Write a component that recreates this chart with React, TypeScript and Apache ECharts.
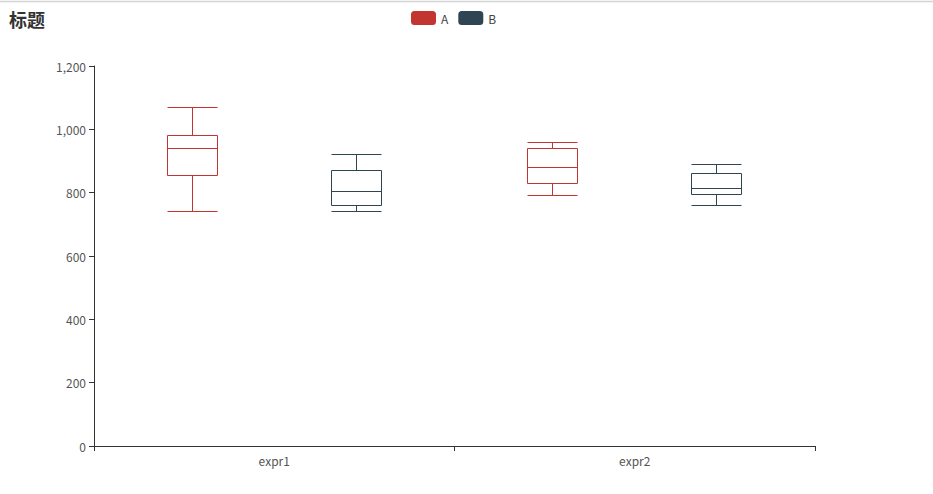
import React, { useEffect, useRef } from "react";
import * as echarts from "echarts";

const title = "标题";
const categories = ["expr1", "expr2"];
const seriesNames = ["A", "B"];
const colors = ["#c23531", "#2f4554"];
// [min, Q1, median, Q3, max]
const boxA = [
  [740, 855, 940, 980, 1070],
  [790, 830, 880, 940, 960],
];
const boxB = [
  [740, 760, 803, 870, 920],
  [760, 795, 813, 862, 890],
];
const yTicks = { min: 0, max: 1200, interval: 200 };

const FONT = "'Microsoft YaHei', 'Noto Sans CJK SC', sans-serif";

function makeSeries(name: string, boxes: number[][], color: string, offsetFrac: number) {
  return {
    type: "custom",
    name,
    itemStyle: { color },
    encode: { x: 0, y: [1, 2, 3, 4, 5] },
    data: boxes.map((b, i) => [i, ...b]),
    renderItem: (params: any, api: any) => {
      const idx = api.value(0);
      const band = api.size([1, 0])[0];
      const c = (v: number) => api.coord([idx, v]);
      const cxRaw = c(api.value(1))[0] + offsetFrac * band;
      const half = 25;
      const crisp = (v: number) => Math.round(v - 0.5) + 0.5;
      const cx = crisp(cxRaw);
      const x1 = crisp(cxRaw - half);
      const x2 = crisp(cxRaw + half);
      const yMin = crisp(c(api.value(1))[1]);
      const yQ1 = crisp(c(api.value(2))[1]);
      const yMed = crisp(c(api.value(3))[1]);
      const yQ3 = crisp(c(api.value(4))[1]);
      const yMax = crisp(c(api.value(5))[1]);
      const style = { stroke: color, lineWidth: 1, fill: null };
      return {
        type: "group",
        children: [
          { type: "line", shape: { x1: cx, y1: yMax, x2: cx, y2: yQ3 }, style },
          { type: "line", shape: { x1: cx, y1: yQ1, x2: cx, y2: yMin }, style },
          { type: "line", shape: { x1, y1: yMax, x2, y2: yMax }, style },
          { type: "line", shape: { x1, y1: yMin, x2, y2: yMin }, style },
          {
            type: "rect",
            shape: { x: x1, y: yQ3, width: x2 - x1, height: yQ1 - yQ3 },
            style: { stroke: color, lineWidth: 1, fill: "#fff" },
          },
          { type: "line", shape: { x1, y1: yMed, x2, y2: yMed }, style },
        ],
      };
    },
  };
}

export default function App() {
  const ref = useRef<HTMLDivElement>(null);
  useEffect(() => {
    document.body.style.margin = "0";
    const chart = echarts.init(ref.current!, undefined, { renderer: "svg" });
    chart.setOption({
      animation: false,
      backgroundColor: "#fff",
      color: colors,
      textStyle: { fontFamily: FONT },
      title: {
        text: title,
        left: 4,
        top: 5,
        textStyle: { fontSize: 18, fontWeight: "bold", color: "#333", fontFamily: FONT },
      },
      legend: {
        data: seriesNames,
        left: 406,
        top: 6,
        icon: "roundRect",
        itemWidth: 25,
        itemHeight: 14,
        itemGap: 10,
        textStyle: { color: "#444", fontSize: 12, fontFamily: FONT },
      },
      grid: { left: 94, right: 118, top: 66, bottom: 48 },
      xAxis: {
        type: "category",
        data: categories,
        boundaryGap: true,
        axisLine: { lineStyle: { color: "#333" } },
        axisTick: { show: true, alignWithLabel: false },
        axisLabel: { color: "#555", fontSize: 12, margin: 8 },
        splitLine: { show: false },
      },
      yAxis: {
        type: "value",
        min: yTicks.min,
        max: yTicks.max,
        interval: yTicks.interval,
        axisLine: { show: true, lineStyle: { color: "#333" } },
        axisTick: { show: true },
        axisLabel: { color: "#555", fontSize: 12 },
        splitLine: { show: false },
      },
      graphic: [
        {
          type: "line",
          shape: { x1: 0, y1: 1.5, x2: 933, y2: 1.5 },
          style: { stroke: "#d4d4d4", lineWidth: 1.5 },
        },
      ],
      series: [
        makeSeries(seriesNames[0], boxA, colors[0], -0.228),
        makeSeries(seriesNames[1], boxB, colors[1], 0.228),
      ],
    });
    return () => chart.dispose();
  }, []);
  return (
    <div
      ref={ref}
      style={{ position: "absolute", left: 0, top: 0, width: 933, height: 494 }}
    />
  );
}
